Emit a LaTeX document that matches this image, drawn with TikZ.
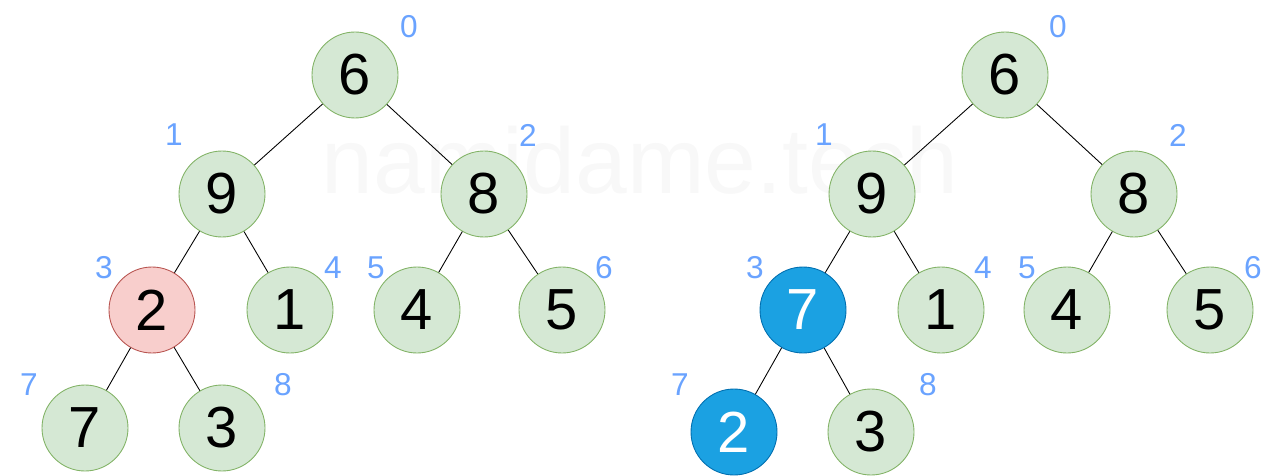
\documentclass[tikz,border=0pt]{standalone}
\usepackage{fontspec}
\setmainfont{Liberation Sans}
\definecolor{gfill}{HTML}{D5E8D4}
\definecolor{gline}{HTML}{82B366}
\definecolor{rfill}{HTML}{F8CECC}
\definecolor{rline}{HTML}{B85450}
\definecolor{bfill}{HTML}{1BA1E2}
\definecolor{bline}{HTML}{006EAF}
\definecolor{idx}{HTML}{6AA3FF}
\definecolor{wm}{HTML}{F8F8F8}
\begin{document}
\begin{tikzpicture}[x=0.02cm,y=-0.02cm,
  heap/.style={circle,minimum size=86*0.02cm,inner sep=0pt,line width=0.5pt,
    fill=gfill,draw=gline,font=\fontsize{33}{33}\selectfont},
  hot/.style={heap,fill=rfill,draw=rline},
  moved/.style={heap,fill=bfill,draw=bline,text=white},
  ix/.style={text=idx,font=\fontsize{18}{18}\selectfont,inner sep=0pt},
  link/.style={draw=black,line width=0.5pt}]
\useasboundingbox (0,0) rectangle (1280,476);
\node[text=wm,font=\fontsize{53}{53}\selectfont,inner sep=0pt] (wmark) at (640,160) {namidame.tech};
% left tree
\node[heap] (a0) at (355,75) {6};
\node[heap] (a1) at (222,194) {9};
\node[heap] (a2) at (484,194) {8};
\node[hot]  (a3) at (152,310) {2};
\node[heap] (a4) at (290,310) {1};
\node[heap] (a5) at (417,310) {4};
\node[heap] (a6) at (562,310) {5};
\node[heap] (a7) at (85,428) {7};
\node[heap] (a8) at (222,428) {3};
\draw[link] (a0) -- (a1); \draw[link] (a0) -- (a2);
\draw[link] (a1) -- (a3); \draw[link] (a1) -- (a4);
\draw[link] (a2) -- (a5); \draw[link] (a2) -- (a6);
\draw[link] (a3) -- (a7); \draw[link] (a3) -- (a8);
\node[ix] (ai0) at (409,27) {0};
\node[ix] (ai1) at (174,135) {1};
\node[ix] (ai2) at (528,135) {2};
\node[ix] (ai3) at (104,268) {3};
\node[ix] (ai4) at (333,268) {4};
\node[ix] (ai5) at (376,268) {5};
\node[ix] (ai6) at (604,268) {6};
\node[ix] (ai7) at (29,385) {7};
\node[ix] (ai8) at (283,385) {8};
% right tree
\node[heap]  (b0) at (1005,75) {6};
\node[heap]  (b1) at (872,194) {9};
\node[heap]  (b2) at (1134,194) {8};
\node[moved] (b3) at (803,310) {7};
\node[heap]  (b4) at (941,310) {1};
\node[heap]  (b5) at (1067,310) {4};
\node[heap]  (b6) at (1210,310) {5};
\node[moved] (b7) at (734,432) {2};
\node[heap]  (b8) at (871,432) {3};
\draw[link] (b0) -- (b1); \draw[link] (b0) -- (b2);
\draw[link] (b1) -- (b3); \draw[link] (b1) -- (b4);
\draw[link] (b2) -- (b5); \draw[link] (b2) -- (b6);
\draw[link] (b3) -- (b7); \draw[link] (b3) -- (b8);
\node[ix] (bi0) at (1058,27) {0};
\node[ix] (bi1) at (824,135) {1};
\node[ix] (bi2) at (1178,135) {2};
\node[ix] (bi3) at (755,268) {3};
\node[ix] (bi4) at (983,268) {4};
\node[ix] (bi5) at (1027,268) {5};
\node[ix] (bi6) at (1253,268) {6};
\node[ix] (bi7) at (680,385) {7};
\node[ix] (bi8) at (928,385) {8};
\end{tikzpicture}
\end{document}
